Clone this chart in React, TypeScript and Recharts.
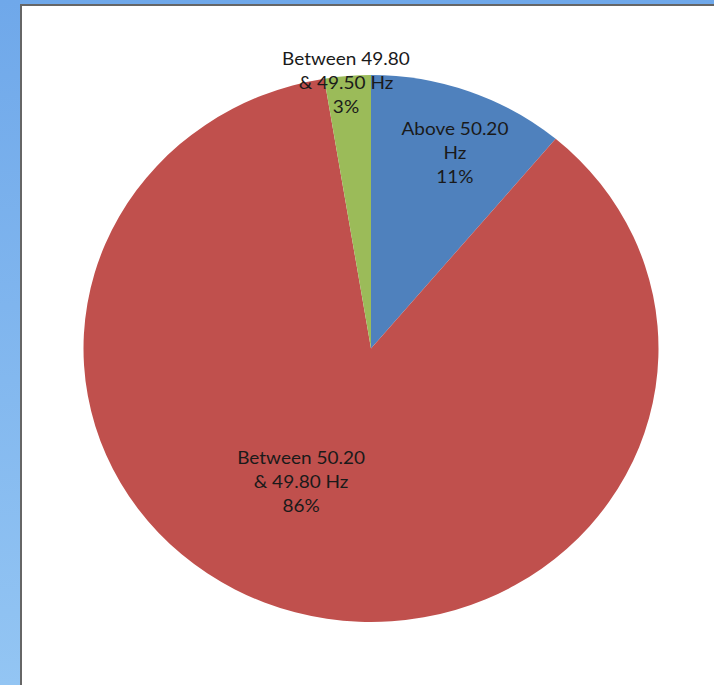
import { Cell, Pie, PieChart } from 'recharts'

const categories = ['Above 50.20 Hz', 'Between 50.20 & 49.80 Hz', 'Between 49.80 & 49.50 Hz']
const shares = [11.1, 86.3, 2.6]
const labelLines = [
  ['Above 50.20', 'Hz'],
  ['Between 50.20', '& 49.80 Hz'],
  ['Between 49.80', '& 49.50 Hz'],
]

const colors = ['#4F81BD', '#C0504D', '#9BBB59']
// where each label sits: fraction of radius, angle shift in degrees
const labelPlace = [
  { r: 0.772, shift: -2.25 },
  { r: 0.547, shift: -11.1 },
  { r: 0.973, shift: 0.45 },
]

const data = categories.map((name, i) => ({ name, value: shares[i], idx: i }))

const RAD = Math.PI / 180
// the original picture is a bit squashed vertically
const squash = 0.9513

const renderLabel = (props: any) => {
  const { cx, cy, midAngle, outerRadius, percent, index } = props
  const place = labelPlace[index]
  const a = (midAngle + place.shift) * RAD
  const x = cx + outerRadius * place.r * Math.cos(a)
  const y = cy - outerRadius * place.r * Math.sin(a)
  const lines = [...labelLines[index], `${Math.round(percent * 100)}%`]
  const lh = 25
  const top = y - ((lines.length - 1) * lh) / 2
  return (
    <text x={x} y={top} textAnchor="middle" fill="#1a1a1a" fontSize={19} fontFamily="Lato, 'Open Sans', sans-serif">
      {lines.map((l, k) => (
        <tspan key={k} x={x} dy={k === 0 ? 6 : lh}>
          {l}
        </tspan>
      ))}
    </text>
  )
}

export default function App() {
  return (
    <div
      style={{
        position: 'fixed',
        left: 0,
        top: 0,
        width: 714,
        height: 685,
        overflow: 'hidden',
        background: 'linear-gradient(to bottom, #6FA8EA, #93C5F3)',
      }}
    >
      <div
        style={{
          position: 'absolute',
          left: 20,
          top: 4,
          width: 720,
          height: 700,
          background: '#fff',
          borderLeft: '2px solid #666',
          borderTop: '2px solid #666',
        }}
      />
      <div
        style={{
          position: 'absolute',
          left: 0,
          top: 0,
          transform: `scaleY(${squash})`,
          transformOrigin: '0 348.5px',
        }}
      >
        <PieChart width={714} height={685}>
          <Pie
            data={data}
            dataKey="value"
            nameKey="name"
            cx={366}
            cy={343.5}
            outerRadius={287.5}
            startAngle={90}
            endAngle={-270}
            stroke="none"
            label={renderLabel}
            labelLine={false}
            isAnimationActive={false}
          >
            {data.map((d) => (
              <Cell key={d.name} fill={colors[d.idx]} />
            ))}
          </Pie>
        </PieChart>
      </div>
    </div>
  )
}
